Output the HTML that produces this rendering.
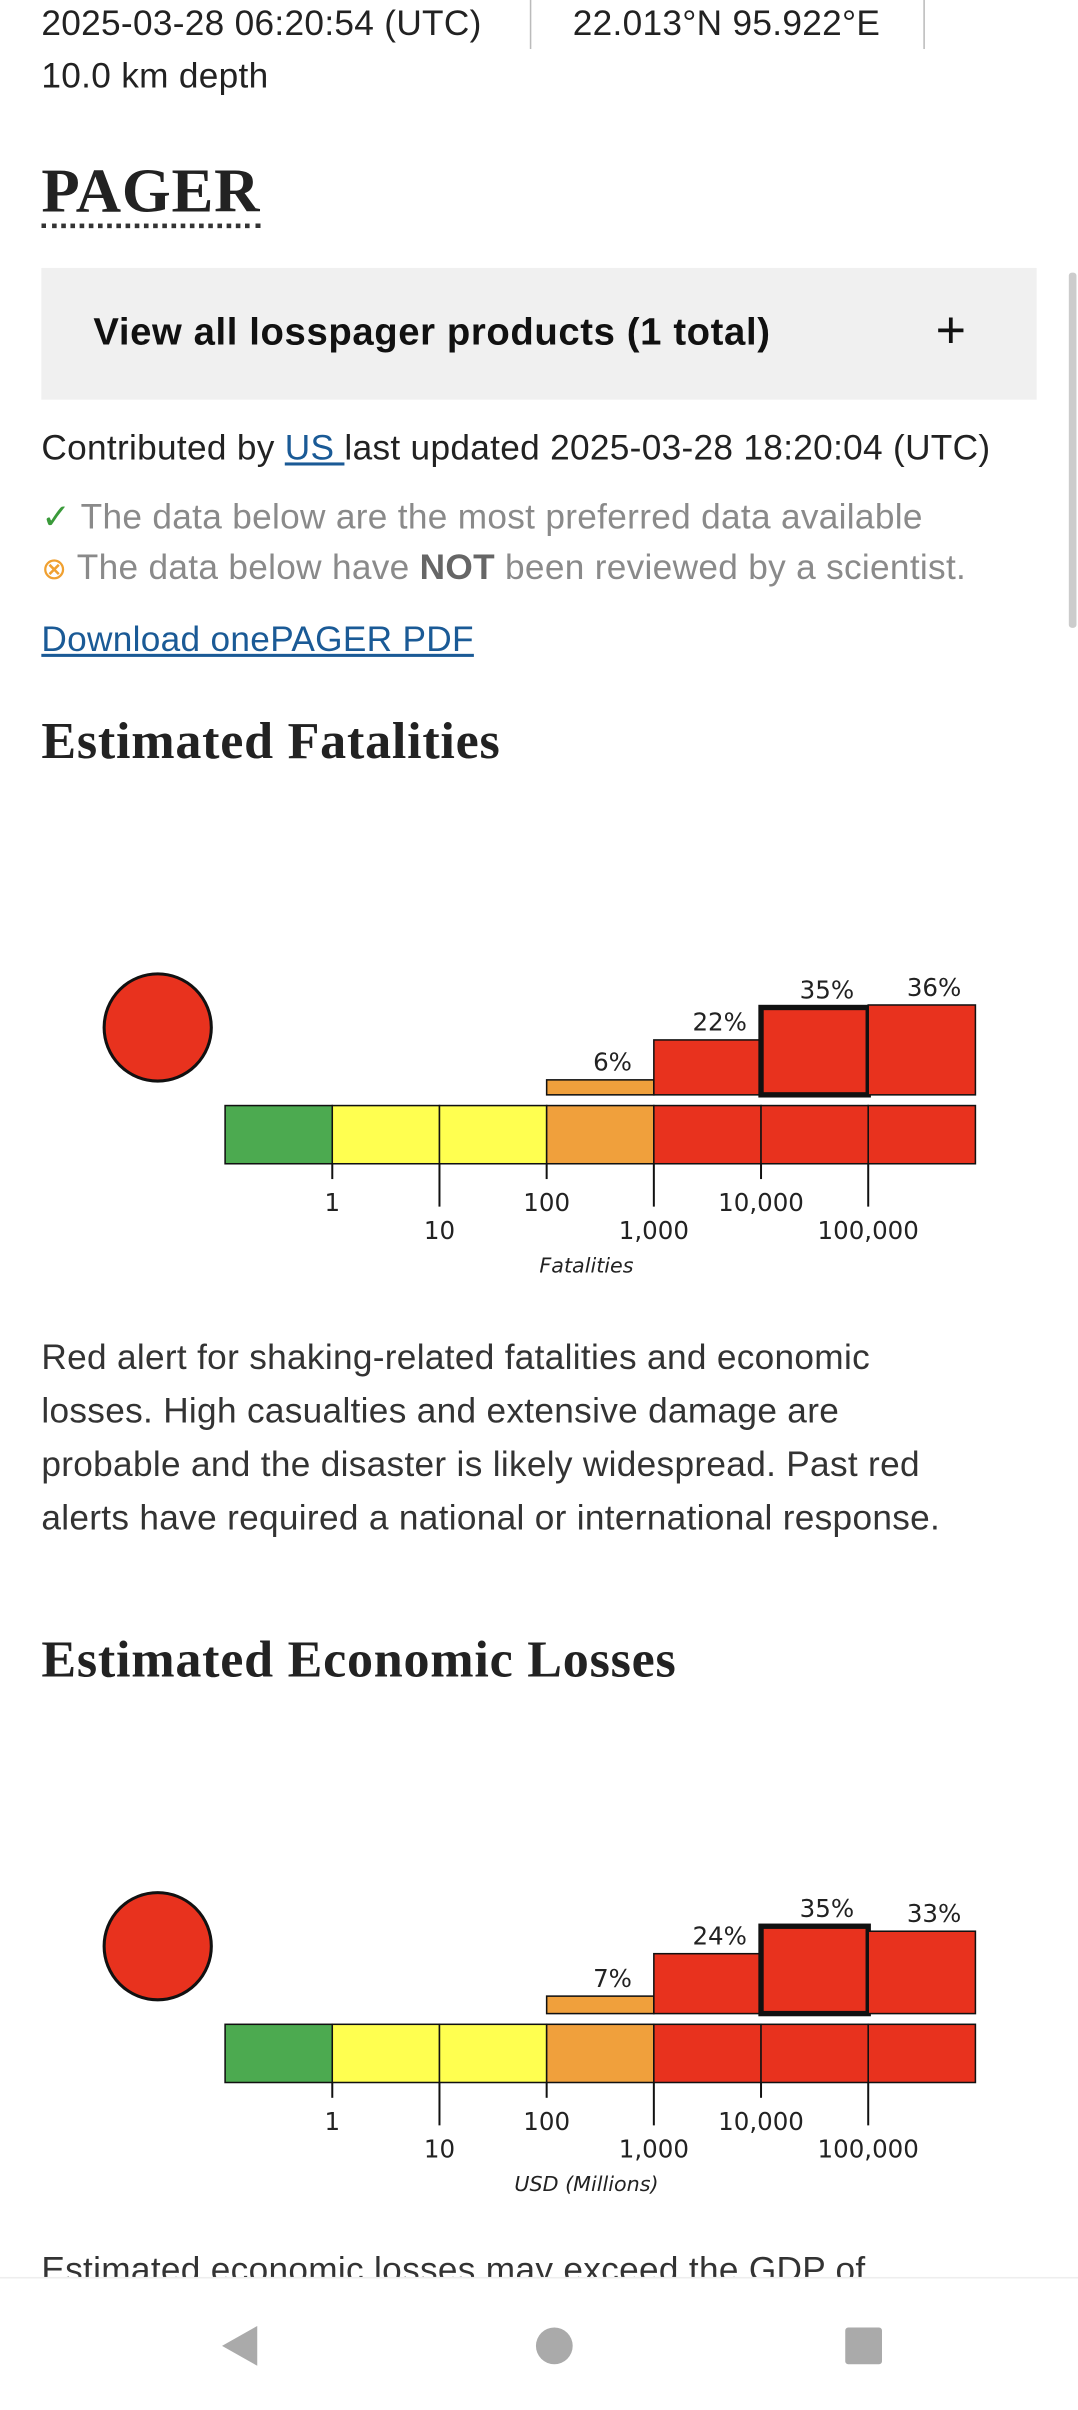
<!DOCTYPE html>
<html><head><meta charset="utf-8">
<style>
html,body{margin:0;padding:0;background:#fff;}
body{width:1078px;height:2400px;overflow:hidden;position:relative;}
#wrap{position:absolute;left:0;top:0;width:704px;height:1568px;transform:scale(1.53125);transform-origin:0 0;font-family:"Liberation Sans",sans-serif;color:#222;}
.t{position:absolute;white-space:nowrap;}
.sans{font-size:23px;letter-spacing:0.2px;}
.serif{font-family:"Liberation Serif",serif;font-weight:bold;color:#222;}
a{color:#1a5a96;}
</style></head><body>
<div id="wrap">
  <div class="t sans" style="left:27px;top:2px;">2025-03-28 06:20:54 (UTC)</div>
  <div style="position:absolute;left:346px;top:0;width:1px;height:32px;background:#bbb;"></div>
  <div class="t sans" style="left:374px;top:2px;">22.013°N 95.922°E</div>
  <div style="position:absolute;left:603px;top:0;width:1px;height:32px;background:#bbb;"></div>
  <div class="t sans" style="left:27px;top:36px;">10.0 km depth</div>
  <div style="position:absolute;left:698px;top:178px;width:5px;height:232px;background:#ccc;border-radius:2px;"></div>

  <div class="t serif" style="left:27px;top:102px;font-size:41px;letter-spacing:0.5px;border-bottom:3px dotted #333;line-height:44px;">PAGER</div>

  <div style="position:absolute;left:27px;top:175px;width:650px;height:86px;background:#f0f0f0;">
    <div class="t" style="left:34px;top:28px;font-size:25px;font-weight:bold;letter-spacing:0.4px;color:#111;">View all losspager products (1 total)</div>
    <div class="t" style="left:584px;top:22px;font-size:34px;color:#111;">+</div>
  </div>

  <div class="t sans" style="left:27px;top:279px;">Contributed by <a href="#">US </a>last updated 2025-03-28 18:20:04 (UTC)</div>
  <div class="t sans" style="left:27px;top:324px;color:#8a8a8a;"><span style="color:#3a9a3a">✓</span> The data below are the most preferred data available</div>
  <div class="t sans" style="left:27px;top:357px;color:#8a8a8a;"><span style="color:#f0a030;font-size:20px;">⊗</span> The data below have <b style="color:#666">NOT</b> been reviewed by a scientist.</div>
  <div class="t sans" style="left:27px;top:404px;"><a href="#">Download onePAGER PDF</a></div>

  <div class="t serif" style="left:27px;top:466px;font-size:34px;letter-spacing:0.5px;">Estimated Fatalities</div>
  <svg id="chart1" style="position:absolute;left:0;top:606px;" width="704" height="240"></svg>

  <div class="t sans" style="left:27px;top:869px;line-height:35px;color:#333;">Red alert for shaking-related fatalities and economic<br>losses. High casualties and extensive damage are<br>probable and the disaster is likely widespread. Past red<br>alerts have required a national or international response.</div>

  <div class="t serif" style="left:27px;top:1066px;font-size:34px;letter-spacing:0.5px;">Estimated Economic Losses</div>
  <svg id="chart2" style="position:absolute;left:0;top:1206px;" width="704" height="240"></svg>

  <div style="position:absolute;left:0;top:1466px;width:704px;height:21px;overflow:hidden;">
    <div class="t sans" style="left:27px;top:3px;color:#333;">Estimated economic losses may exceed the GDP of</div>
  </div>
  <div style="position:absolute;left:0;top:1487px;width:704px;height:81px;background:#fff;border-top:1px solid #eee;">
    <svg width="704" height="81">
      <polygon points="168,31 168,57 145,44" fill="#aaa"/>
      <ellipse cx="362" cy="44" rx="12" ry="12" fill="#aaa"/>
      <rect x="552" y="32" width="24" height="24" rx="2" fill="#aaa"/>
    </svg>
  </div>
</div>
<script>
var binColors = ["#4caa50","#ffff50","#ffff50","#f0a03c","#e8321e","#e8321e","#e8321e"];
var tickLabels = ["1","10","100","1,000","10,000","100,000"];
var fatalPct = [0,0,0,6,22,35,36];
var econPct = [0,0,0,7,24,35,33];
var fatalHighlight = 5;
var econHighlight = 5;
var NS="http://www.w3.org/2000/svg";
function mk(svg,tag,attrs){var e=document.createElementNS(NS,tag);for(var k in attrs)e.setAttribute(k,attrs[k]);svg.appendChild(e);return e;}
function draw(id,pct,hi,xlabel){
  var svg=document.getElementById(id);
  var x0=147,bw=70,base=109,barTop=116,barH=38,k=1.63;
  function xs(i){return x0+i*bw;}
  function ys(v){return base-v*k;}
  var c=mk(svg,'ellipse',{cx:103,cy:65,rx:35,ry:35,fill:'#e8321e',stroke:'#111','stroke-width':2});
  
  
  for(var i=0;i<binColors.length;i++){
    var r=mk(svg,'rect',{x:xs(i),y:barTop,width:bw,height:barH,fill:binColors[i],stroke:'#111','stroke-width':1});
    
    
  }
  for(var i=0;i<pct.length;i++){
    if(pct[i]<=0)continue;
    var b=mk(svg,'rect',{x:xs(i),y:ys(pct[i]),width:bw,height:base-ys(pct[i]),fill:binColors[i],stroke:'#111','stroke-width':i===hi?3.5:1});
    
    
    var t=mk(svg,'text',{x:xs(i)+bw/2+8,y:ys(pct[i])-6,'font-size':16,'text-anchor':'middle',fill:'#222','font-family':'DejaVu Sans, sans-serif'});
    t.textContent=pct[i]+'%';
    
    
  }
  for(var j=0;j<tickLabels.length;j++){
    var x=xs(j+1),longT=(j%2===1);
    var l=mk(svg,'line',{x1:x,y1:barTop+barH,x2:x,y2:barTop+barH+(longT?28:10),stroke:'#111','stroke-width':1.3});
    
    
    var tl=mk(svg,'text',{x:x,y:longT?203:185,'font-size':16,'text-anchor':'middle',fill:'#222','font-family':'DejaVu Sans, sans-serif'});
    tl.textContent=tickLabels[j];
    
    
  }
  var ax=mk(svg,'text',{x:383,y:225,'font-size':13.5,'font-style':'italic','text-anchor':'middle',fill:'#222','font-family':'DejaVu Sans, sans-serif'});
  ax.textContent=xlabel;
  
  
}
draw('chart1',fatalPct,fatalHighlight,'Fatalities');
draw('chart2',econPct,econHighlight,'USD (Millions)');
</script>
</body></html>
